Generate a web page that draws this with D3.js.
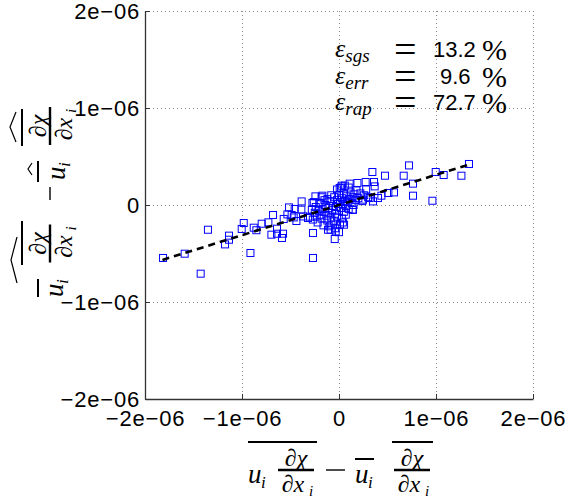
<!DOCTYPE html>
<html><head><meta charset="utf-8">
<script src="https://cdn.jsdelivr.net/npm/d3@7/dist/d3.min.js"></script>
<style>body{margin:0;background:#fff}svg{display:block}</style>
</head><body>
<svg id="chart" width="568" height="499"></svg>
<script>
// Data in units of 1e-6
const UNIT = 1e-6;
const xVals = [-1.814,-1.591,-1.426,-1.351,-1.175,-1.134,-1.134,-1.003,-0.982,-0.913,-0.879,-0.852,-0.797,-0.728,-0.680,-0.697,-0.639,-0.639,-0.577,-0.588,-0.570,-0.532,-0.515,-0.488,-0.467,-0.457,-0.439,-0.385,-0.388,-0.371,-0.320,-0.268,-0.268,-0.274,-0.243,-0.171,-0.044,-0.113,-0.078,
1.340,1.262,1.079,0.997,0.963,0.722,0.667,0.763,0.763,0.474,0.344,0.567,0.509,0.361,0.275,0.190,0.110,0.028,0.368,0.437,0.351,-0.034,0.052,-0.086,0.144,0.247,0.316,0.402,
-0.30,-0.28,-0.27,-0.25,-0.24,-0.23,-0.22,-0.21,-0.20,-0.19,-0.18,-0.17,-0.16,-0.15,-0.14,-0.13,-0.12,-0.11,-0.10,-0.09,-0.08,-0.07,-0.06,-0.05,-0.05,-0.04,-0.03,-0.02,-0.02,-0.01,0.00,0.00,0.01,0.01,0.02,0.03,0.03,0.04,0.05,0.05,0.06,0.07,0.08,0.09,0.10,0.11,0.12,0.13,0.14,0.15,0.16,0.17,0.18,0.20,0.22,0.24,0.26,0.28,0.30,-0.02,0.02,-0.08,-0.12,0.07,-0.04,0.00,0.04,-0.10,0.10,-0.15,-0.26,-0.18,0.06,0.14,0.007];
const yVals = [-0.546,-0.502,-0.708,-0.255,-0.406,-0.316,-0.358,-0.247,-0.186,-0.495,-0.234,-0.260,-0.193,-0.179,-0.103,-0.306,-0.244,-0.296,-0.296,-0.340,-0.144,-0.097,-0.025,-0.103,-0.128,-0.041,-0.165,0.037,-0.048,-0.118,-0.134,-0.546,-0.289,0.021,0.089,0.096,-0.351,-0.255,-0.203,
0.423,0.302,0.309,0.340,0.044,0.408,0.302,0.220,0.096,0.302,0.340,0.130,0.124,0.237,0.237,0.227,0.220,0.199,0.192,0.096,0.037,-0.272,-0.203,-0.255,-0.048,0.055,0.072,0.072,
-0.12,-0.05,-0.15,-0.08,-0.02,-0.12,-0.18,-0.06,0.02,-0.10,-0.14,-0.04,-0.21,-0.07,0.00,-0.11,-0.16,-0.03,-0.08,0.04,-0.13,-0.05,-0.01,-0.17,0.08,-0.09,-0.02,0.05,-0.12,0.01,-0.06,0.10,-0.20,0.03,-0.03,0.07,-0.14,0.01,0.12,-0.07,0.04,-0.01,0.09,0.03,-0.04,0.06,0.13,0.02,0.08,0.00,0.11,0.05,0.15,0.07,0.12,0.04,0.10,0.16,0.08,0.16,0.18,0.10,0.06,-0.10,-0.24,-0.28,-0.18,-0.22,0.18,0.05,0.03,0.08,0.20,-0.05,0.175];
const fitX = [-1.82, 1.34];
const fitSlope = 0.311;
const tickVals = [-2, -1, 0, 1, 2];
const tickLabels = ["\u22122e\u221206", "\u22121e\u221206", "0", "1e\u221206", "2e\u221206"];
const errNames = ["sgs", "err", "rap"];
const errValues = ["13.2", "9.6", "72.7"];

const svg = d3.select("#chart");
const L = 145, R = 533, T = 11, B = 399;
const x = d3.scaleLinear().domain([-2*UNIT, 2*UNIT]).range([L, R]);
const y = d3.scaleLinear().domain([-2*UNIT, 2*UNIT]).range([B, T]);
const SANS = "'Liberation Sans', Arial, sans-serif";
const SERIF = "'Liberation Serif', 'Times New Roman', serif";

// grid
const grid = svg.append("g").attr("stroke", "#8a8a8a").attr("stroke-width", 1).attr("stroke-dasharray", "1,3");
tickVals.slice(1).forEach(v => {
  grid.append("line").attr("x1", x(v*UNIT)+0.5).attr("x2", x(v*UNIT)+0.5).attr("y1", T).attr("y2", B);
  grid.append("line").attr("x1", L).attr("x2", R).attr("y1", y(v*UNIT)+0.5).attr("y2", y(v*UNIT)+0.5);
});

// axes
const xAxis = d3.axisBottom(x).tickValues(tickVals.map(v => v*UNIT)).tickSizeInner(-5).tickSizeOuter(0).tickPadding(12)
  .tickFormat((d, i) => tickLabels[i]);
const yAxis = d3.axisLeft(y).tickValues(tickVals.map(v => v*UNIT)).tickSizeInner(-5).tickSizeOuter(0).tickPadding(5)
  .tickFormat((d, i) => tickLabels[i]);
const gx = svg.append("g").attr("transform", `translate(0,${B})`).call(xAxis);
const gy = svg.append("g").attr("transform", `translate(${L},0)`).call(yAxis);
[gx, gy].forEach(g => {
  g.select(".domain").attr("stroke", "#333").attr("stroke-width", 1.3);
  g.selectAll(".tick line").attr("stroke", "#333");
  g.selectAll(".tick text").attr("font-family", SANS).attr("font-size", 22).attr("letter-spacing", "0.8px").attr("fill", "#000");
});
gx.selectAll(".tick text").attr("dy", "0.68em");

// points
svg.append("g").selectAll("rect").data(xVals.map((v, i) => [v*UNIT, yVals[i]*UNIT])).join("rect")
  .attr("x", d => x(d[0]) - 3.5).attr("y", d => y(d[1]) - 3.5)
  .attr("width", 7).attr("height", 7)
  .attr("fill", "none").attr("stroke", "#0000ff").attr("stroke-width", 1);

// fit line
const line = d3.line().x(d => x(d[0])).y(d => y(d[1]));
svg.append("path").datum(fitX.map(v => [v*UNIT, v*UNIT*fitSlope])).attr("d", line)
  .attr("fill", "none").attr("stroke", "#000").attr("stroke-width", 2.6).attr("stroke-dasharray", "7,5");

// error annotation
const ann = svg.append("g");
errNames.forEach((nm, i) => {
  const by = 57 + i*26.5;
  const t = ann.append("text").attr("x", 335).attr("y", by).attr("font-family", SERIF).attr("font-style", "italic").attr("font-size", 26);
  t.append("tspan").text("\u03b5");
  t.append("tspan").attr("font-size", 19).attr("dy", 5).text(nm);
  ann.append("text").attr("x", 394).attr("y", by + 6).attr("font-family", SERIF).attr("font-size", 40).text("=");
  ann.append("text").attr("x", i === 1 ? 440 : 433).attr("y", by).attr("font-family", SANS).attr("font-size", 22).text(errValues[i]);
  ann.append("text").attr("x", 482).attr("y", by + 3).attr("font-family", SERIF).attr("font-size", 30).text("%");
});

// math helpers
function mt(g, s, lx, ly, size, anchor) {
  return g.append("text").attr("x", lx).attr("y", ly).attr("font-family", SERIF).attr("font-style", "italic")
    .attr("font-size", size).attr("text-anchor", anchor || "start").text(s);
}
function ln(g, x1, y1, x2, y2, w) {
  g.append("line").attr("x1", x1).attr("y1", y1).attr("x2", x2).attr("y2", y2).attr("stroke", "#000").attr("stroke-width", w);
}
function frac(g, cx, w) {
  mt(g, "\u2202\u03c7", cx, -17, 24, "middle");
  mt(g, "\u2202x", cx - 3, 9, 24, "middle");
  mt(g, "i", cx + 13, 13, 15);
  ln(g, cx - w/2, -13, cx + w/2, -13, 2.4);
}

// x label
const xl = svg.append("g").attr("transform", "translate(248,483)");
mt(xl, "u", 0, 0, 27); mt(xl, "i", 13, 5, 17);
frac(xl, 48, 36);
ln(xl, 0, -41, 69, -41, 2);
ln(xl, 78, -13, 97, -13, 1.4);
mt(xl, "u", 107, 0, 27); mt(xl, "i", 120, 5, 17);
ln(xl, 107, -24, 126, -24, 2);
frac(xl, 164, 36);
ln(xl, 144, -41, 185, -41, 2);

// y label (rotated)
const yl = svg.append("g").attr("transform", "translate(63,297) rotate(-90)");
mt(yl, "u", 0, 0, 27); mt(yl, "i", 13, 5, 17);
ln(yl, 0, -25, 18, -25, 2);
frac(yl, 53.5, 38);
ln(yl, 32, -41, 76, -41, 2);
yl.append("path").attr("d", "M14,-46 L37,-52 L60,-46").attr("fill", "none").attr("stroke", "#000").attr("stroke-width", 1.2);
ln(yl, 97, -13, 110, -13, 1.4);
mt(yl, "u", 117, 2, 27); mt(yl, "i", 130, 7, 17);
ln(yl, 115, -25, 136, -25, 2);
yl.append("path").attr("d", "M122,-31 L128,-35 L134,-31").attr("fill", "none").attr("stroke", "#000").attr("stroke-width", 1.2);
frac(yl, 171, 38);
ln(yl, 151, -41, 188, -41, 2);
yl.append("path").attr("d", "M155,-47 L170,-53 L185,-47").attr("fill", "none").attr("stroke", "#000").attr("stroke-width", 1.2);
</script>
</body></html>
